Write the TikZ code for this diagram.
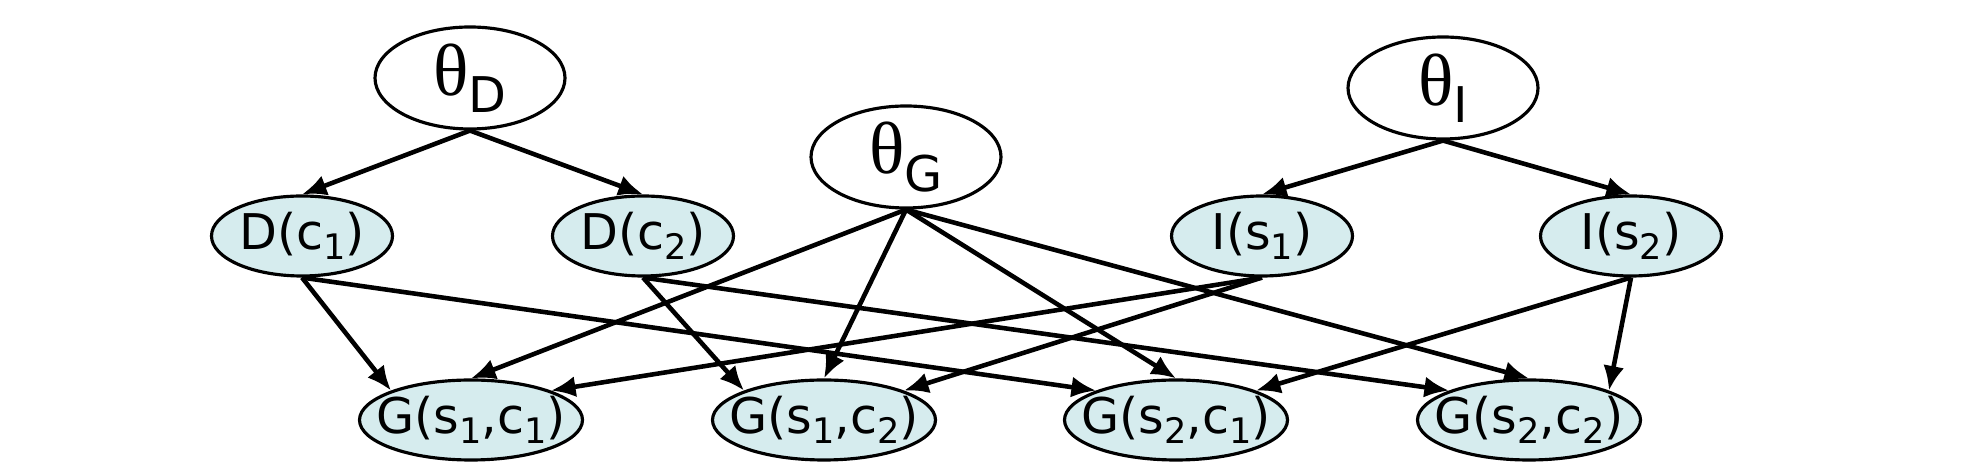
\documentclass[tikz,border=0pt]{standalone}
\usepackage{fontspec}
\setmainfont{DejaVu Sans}
\newfontfamily\thetafont{Liberation Serif}
\usetikzlibrary{arrows.meta,shapes.geometric}
\definecolor{paleblue}{RGB}{214,236,238}
\newcommand{\thsub}[1]{{\thetafont\fontsize{21}{24}\selectfont θ}\raisebox{-5pt}{#1}}
\newcommand{\lo}[1]{\raisebox{-3pt}{\fontsize{10}{12}\selectfont #1}}

\begin{document}
\begin{tikzpicture}[font=\fontsize{14}{16}\selectfont,
  par/.style={ellipse, draw, line width=0.9pt, minimum width=1.9cm, minimum height=1.02cm, inner xsep=-5pt, inner ysep=0pt},
  var/.style={ellipse, draw, line width=0.9pt, fill=paleblue, minimum width=1.81cm, minimum height=0.8cm, inner xsep=-5pt, inner ysep=0pt},
  gvar/.style={var, minimum width=2.23cm},
  arr/.style={-{Latex[length=7pt,width=6pt]}, line width=1.3pt}]
\useasboundingbox (0,0) rectangle (19.66,4.74);

\node [par] (thD) at (4.70,3.96) {\thsub{D}};
\node [par] (thG) at (9.06,3.17) {\thsub{G}};
\node [par] (thI) at (14.43,3.86) {\thsub{I}};

\node [var] (Dc1) at (3.02,2.38) {D(c\lo{1})};
\node [var] (Dc2) at (6.43,2.38) {D(c\lo{2})};
\node [var] (Is1) at (12.62,2.38) {I(s\lo{1})};
\node [var] (Is2) at (16.31,2.38) {I(s\lo{2})};

\node [gvar] (Gs1c1) at (4.71,0.54) {G(s\lo{1},c\lo{1})};
\node [gvar] (Gs1c2) at (8.24,0.54) {G(s\lo{1},c\lo{2})};
\node [gvar] (Gs2c1) at (11.76,0.54) {G(s\lo{2},c\lo{1})};
\node [gvar] (Gs2c2) at (15.29,0.54) {G(s\lo{2},c\lo{2})};

\foreach \s/\t in {thD/Dc1, thD/Dc2, thI/Is1, thI/Is2} {\draw [arr] (\s.south) -- (\t.north);}
\foreach \t in {Gs1c1, Gs1c2, Gs2c1, Gs2c2} {\draw [arr] (thG.south) -- (\t.north);}
\foreach \s/\t in {Dc1/Gs1c1, Dc1/Gs2c1, Dc2/Gs1c2, Dc2/Gs2c2} {\draw [arr] (\s.south) -- (\t.north west);}
\foreach \s/\t in {Is1/Gs1c1, Is1/Gs1c2, Is2/Gs2c1, Is2/Gs2c2} {\draw [arr] (\s.south) -- (\t.north east);}

\end{tikzpicture}
\end{document}
